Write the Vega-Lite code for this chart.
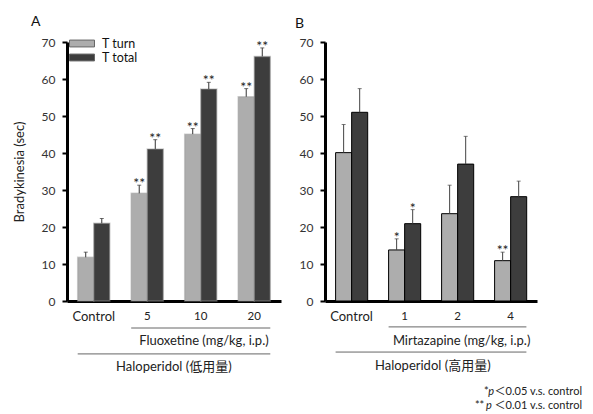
{
  "$schema": "https://vega.github.io/schema/vega-lite/v6.json",
  "padding": {"left": 13, "top": 15, "right": 0, "bottom": 0},
  "background": "white",
  "spacing": 14,
  "datasets": {
    "barsA": [
      {"dose": "Control", "series": "T turn", "value": 11.8, "upper": 13.2, "sig": ""},
      {"dose": "Control", "series": "T total", "value": 21.0, "upper": 22.3, "sig": ""},
      {"dose": "5", "series": "T turn", "value": 29.1, "upper": 31.3, "sig": "**"},
      {"dose": "5", "series": "T total", "value": 41.1, "upper": 43.6, "sig": "**"},
      {"dose": "10", "series": "T turn", "value": 45.1, "upper": 46.6, "sig": "**"},
      {"dose": "10", "series": "T total", "value": 57.3, "upper": 59.1, "sig": "**"},
      {"dose": "20", "series": "T turn", "value": 55.2, "upper": 57.4, "sig": "**"},
      {"dose": "20", "series": "T total", "value": 66.1, "upper": 68.4, "sig": "**"}
    ],
    "barsB": [
      {"dose": "Control", "series": "T turn", "value": 40.1, "upper": 47.7, "sig": ""},
      {"dose": "Control", "series": "T total", "value": 51.0, "upper": 57.4, "sig": ""},
      {"dose": "1", "series": "T turn", "value": 13.8, "upper": 16.8, "sig": "*"},
      {"dose": "1", "series": "T total", "value": 20.9, "upper": 24.7, "sig": "*"},
      {"dose": "2", "series": "T turn", "value": 23.6, "upper": 31.3, "sig": ""},
      {"dose": "2", "series": "T total", "value": 37.0, "upper": 44.5, "sig": ""},
      {"dose": "4", "series": "T turn", "value": 10.9, "upper": 13.2, "sig": "**"},
      {"dose": "4", "series": "T total", "value": 28.2, "upper": 32.4, "sig": ""}
    ],
    "linesA": [
      {"from": "5", "to": "20", "y": -7.3},
      {"from": "Control", "to": "20", "y": -14.3}
    ],
    "linesB": [
      {"from": "1", "to": "4", "y": -7.0},
      {"from": "Control", "to": "4", "y": -13.8}
    ]
  },
  "hconcat": [
    {
      "width": 214,
      "height": 259,
      "title": {"text": "A", "anchor": "start", "frame": "group", "dx": -36, "offset": 7, "fontSize": 14, "fontWeight": "normal", "font": "Lato", "color": "#111"},
      "layer": [
        {
          "data": {"name": "barsA"},
          "mark": {"type": "bar", "strokeWidth": 1.5, "stroke": "#9a9a9a", "strokeOpacity": 0.45},
          "encoding": {
            "x": {"field": "dose", "type": "nominal", "sort": ["Control", "5", "10", "20"],
                  "scale": {"domain": ["Control", "5", "10", "20"], "paddingInner": 0.4, "paddingOuter": 0.2},
                  "axis": {"title": null, "labelAngle": 0, "ticks": false, "domainColor": "#000", "domainWidth": 3, "labelPadding": 9, "labelFontSize": {"condition": {"test": "datum.value == 'Control'", "value": 13}, "value": 11.5}, "labelColor": "#222"}},
            "xOffset": {"field": "series", "type": "nominal", "sort": ["T turn", "T total"], "scale": {"paddingInner": 0, "paddingOuter": 0}},
            "y": {"field": "value", "type": "quantitative",
                  "scale": {"domain": [0, 70], "nice": false},
                  "axis": {"title": "Bradykinesia (sec)", "values": [0, 10, 20, 30, 40, 50, 60, 70], "titleFontSize": 13, "titleFontWeight": "normal", "titleColor": "#222", "titlePadding": 15}},
            "color": {"field": "series", "type": "nominal", "scale": {"domain": ["T turn", "T total"], "range": ["#adadad", "#3d3d3d"]},
                      "legend": {"title": null, "orient": "none", "legendX": 8, "legendY": -5.5, "symbolType": "M-2,-0.55L2,-0.55L2,0.55L-2,0.55Z", "symbolSize": 156, "symbolStrokeColor": "#666", "symbolStrokeWidth": 1, "labelFontSize": 12.5, "labelColor": "#111", "labelOffset": 13, "rowPadding": -3, "padding": 0, "offset": 0}}
          }
        },
        {
          "data": {"name": "barsA"},
          "mark": {"type": "rule", "color": "#333", "strokeWidth": 1},
          "encoding": {
            "x": {"field": "dose", "type": "nominal", "sort": ["Control", "5", "10", "20"]},
            "xOffset": {"field": "series", "type": "nominal", "sort": ["T turn", "T total"]},
            "y": {"field": "value", "type": "quantitative", "axis": {"values": [0, 10, 20, 30, 40, 50, 60, 70]}},
            "y2": {"field": "upper"}
          }
        },
        {
          "data": {"name": "barsA"},
          "mark": {"type": "tick", "color": "#333", "size": 4, "thickness": 1, "orient": "horizontal"},
          "encoding": {
            "x": {"field": "dose", "type": "nominal", "sort": ["Control", "5", "10", "20"]},
            "xOffset": {"field": "series", "type": "nominal", "sort": ["T turn", "T total"]},
            "y": {"field": "upper", "type": "quantitative", "axis": {"values": [0, 10, 20, 30, 40, 50, 60, 70]}}
          }
        },
        {
          "data": {"name": "barsA"},
          "mark": {"type": "text", "fontSize": 14, "baseline": "alphabetic", "dy": 3, "color": "#222"},
          "encoding": {
            "x": {"field": "dose", "type": "nominal", "sort": ["Control", "5", "10", "20"]},
            "xOffset": {"field": "series", "type": "nominal", "sort": ["T turn", "T total"]},
            "y": {"field": "upper", "type": "quantitative", "axis": {"values": [0, 10, 20, 30, 40, 50, 60, 70]}},
            "text": {"field": "sig"}
          }
        },
        {
          "data": {"name": "linesA"},
          "mark": {"type": "rule", "color": "#666", "strokeWidth": 1},
          "encoding": {
            "x": {"field": "from", "type": "nominal", "bandPosition": 0},
            "x2": {"field": "to", "bandPosition": 1},
            "y": {"field": "y", "type": "quantitative", "axis": {"values": [0, 10, 20, 30, 40, 50, 60, 70]}}
          }
        },
        {
          "data": {"values": [
            {"at": "10", "label": "Fluoxetine (mg/kg, i.p.)", "y": -10.8}
          ]},
          "mark": {"type": "text", "fontSize": 13, "color": "#222", "baseline": "middle"},
          "encoding": {
            "x": {"field": "at", "type": "nominal", "bandPosition": 0.6},
            "y": {"field": "y", "type": "quantitative", "axis": {"values": [0, 10, 20, 30, 40, 50, 60, 70]}},
            "text": {"field": "label"}
          }
        },
        {
          "data": {"values": [
            {"at": "5", "label": "Haloperidol (低用量)", "y": -17.8}
          ]},
          "mark": {"type": "text", "fontSize": 13, "color": "#222", "baseline": "middle"},
          "encoding": {
            "x": {"field": "at", "type": "nominal", "bandPosition": 1.33},
            "y": {"field": "y", "type": "quantitative", "axis": {"values": [0, 10, 20, 30, 40, 50, 60, 70]}},
            "text": {"field": "label"}
          }
        }
      ]
    },
    {
      "width": 212,
      "height": 259,
      "title": {"text": "B", "anchor": "start", "frame": "group", "dx": -30, "offset": 5, "fontSize": 14, "fontWeight": "normal", "font": "Lato", "color": "#111"},
      "layer": [
        {
          "data": {"name": "barsB"},
          "mark": {"type": "bar", "stroke": "#000", "strokeWidth": 1},
          "encoding": {
            "x": {"field": "dose", "type": "nominal", "sort": ["Control", "1", "2", "4"],
                  "scale": {"domain": ["Control", "1", "2", "4"], "paddingInner": 0.4, "paddingOuter": 0.2},
                  "axis": {"title": null, "labelAngle": 0, "ticks": false, "domainColor": "#000", "domainWidth": 3, "labelPadding": 9, "labelFontSize": {"condition": {"test": "datum.value == 'Control'", "value": 13}, "value": 11.5}, "labelColor": "#222"}},
            "xOffset": {"field": "series", "type": "nominal", "sort": ["T turn", "T total"], "scale": {"paddingInner": 0, "paddingOuter": 0}},
            "y": {"field": "value", "type": "quantitative",
                  "scale": {"domain": [0, 70], "nice": false},
                  "axis": {"title": null, "values": [0, 10, 20, 30, 40, 50, 60, 70]}},
            "color": {"field": "series", "type": "nominal", "scale": {"domain": ["T turn", "T total"], "range": ["#adadad", "#3d3d3d"]}, "legend": null}
          }
        },
        {
          "data": {"name": "barsB"},
          "mark": {"type": "rule", "color": "#444", "strokeWidth": 1},
          "encoding": {
            "x": {"field": "dose", "type": "nominal", "sort": ["Control", "1", "2", "4"]},
            "xOffset": {"field": "series", "type": "nominal", "sort": ["T turn", "T total"]},
            "y": {"field": "value", "type": "quantitative", "axis": {"title": null, "values": [0, 10, 20, 30, 40, 50, 60, 70]}},
            "y2": {"field": "upper"}
          }
        },
        {
          "data": {"name": "barsB"},
          "mark": {"type": "tick", "color": "#444", "size": 4, "thickness": 1, "orient": "horizontal"},
          "encoding": {
            "x": {"field": "dose", "type": "nominal", "sort": ["Control", "1", "2", "4"]},
            "xOffset": {"field": "series", "type": "nominal", "sort": ["T turn", "T total"]},
            "y": {"field": "upper", "type": "quantitative", "axis": {"title": null, "values": [0, 10, 20, 30, 40, 50, 60, 70]}}
          }
        },
        {
          "data": {"name": "barsB"},
          "mark": {"type": "text", "fontSize": 14, "baseline": "alphabetic", "dy": 3, "color": "#222"},
          "encoding": {
            "x": {"field": "dose", "type": "nominal", "sort": ["Control", "1", "2", "4"]},
            "xOffset": {"field": "series", "type": "nominal", "sort": ["T turn", "T total"]},
            "y": {"field": "upper", "type": "quantitative", "axis": {"title": null, "values": [0, 10, 20, 30, 40, 50, 60, 70]}},
            "text": {"field": "sig"}
          }
        },
        {
          "data": {"name": "linesB"},
          "mark": {"type": "rule", "color": "#666", "strokeWidth": 1},
          "encoding": {
            "x": {"field": "from", "type": "nominal", "bandPosition": 0},
            "x2": {"field": "to", "bandPosition": 1},
            "y": {"field": "y", "type": "quantitative", "axis": {"title": null, "values": [0, 10, 20, 30, 40, 50, 60, 70]}}
          }
        },
        {
          "data": {"values": [
            {"at": "2", "label": "Mirtazapine (mg/kg, i.p.)", "y": -10.8}
          ]},
          "mark": {"type": "text", "fontSize": 13, "color": "#222", "baseline": "middle"},
          "encoding": {
            "x": {"field": "at", "type": "nominal", "bandPosition": 0.63},
            "y": {"field": "y", "type": "quantitative", "axis": {"title": null, "values": [0, 10, 20, 30, 40, 50, 60, 70]}},
            "text": {"field": "label"}
          }
        },
        {
          "data": {"values": [
            {"at": "1", "label": "Haloperidol (高用量)", "y": -17.6}
          ]},
          "mark": {"type": "text", "fontSize": 13, "color": "#222", "baseline": "middle"},
          "encoding": {
            "x": {"field": "at", "type": "nominal", "bandPosition": 1.39},
            "y": {"field": "y", "type": "quantitative", "axis": {"title": null, "values": [0, 10, 20, 30, 40, 50, 60, 70]}},
            "text": {"field": "label"}
          }
        },
        {
          "data": {"values": [
            {"at": "4", "label": "＜0.05 v.s. control", "y": -24.6},
            {"at": "4", "label": "＜0.01 v.s. control", "y": -28.4}
          ]},
          "mark": {"type": "text", "fontSize": 11, "color": "#222", "baseline": "middle", "align": "left"},
          "encoding": {
            "x": {"field": "at", "type": "nominal", "bandPosition": 0},
            "y": {"field": "y", "type": "quantitative", "axis": {"title": null, "values": [0, 10, 20, 30, 40, 50, 60, 70]}},
            "text": {"field": "label"}
          }
        },
        {
          "data": {"values": [
            {"at": "4", "label": "p", "y": -24.6}
          ]},
          "mark": {"type": "text", "fontSize": 11, "fontStyle": "italic", "color": "#222", "baseline": "middle", "align": "left"},
          "encoding": {
            "x": {"field": "at", "type": "nominal", "bandPosition": -0.2},
            "y": {"field": "y", "type": "quantitative", "axis": {"title": null, "values": [0, 10, 20, 30, 40, 50, 60, 70]}},
            "text": {"field": "label"}
          }
        },
        {
          "data": {"values": [
            {"at": "4", "label": "p", "y": -28.4}
          ]},
          "mark": {"type": "text", "fontSize": 11, "fontStyle": "italic", "color": "#222", "baseline": "middle", "align": "left"},
          "encoding": {
            "x": {"field": "at", "type": "nominal", "bandPosition": -0.27},
            "y": {"field": "y", "type": "quantitative", "axis": {"title": null, "values": [0, 10, 20, 30, 40, 50, 60, 70]}},
            "text": {"field": "label"}
          }
        },
        {
          "data": {"values": [
            {"at": "4", "label": "*", "y": -24.6}
          ]},
          "mark": {"type": "text", "fontSize": 11, "color": "#222", "baseline": "middle", "align": "left"},
          "encoding": {
            "x": {"field": "at", "type": "nominal", "bandPosition": -0.33},
            "y": {"field": "y", "type": "quantitative", "axis": {"title": null, "values": [0, 10, 20, 30, 40, 50, 60, 70]}},
            "text": {"field": "label"}
          }
        },
        {
          "data": {"values": [
            {"at": "4", "label": "**", "y": -28.4}
          ]},
          "mark": {"type": "text", "fontSize": 11, "color": "#222", "baseline": "middle", "align": "left"},
          "encoding": {
            "x": {"field": "at", "type": "nominal", "bandPosition": -0.62},
            "y": {"field": "y", "type": "quantitative", "axis": {"title": null, "values": [0, 10, 20, 30, 40, 50, 60, 70]}},
            "text": {"field": "label"}
          }
        }
      ]
    }
  ],
  "resolve": {"scale": {"color": "independent", "x": "independent", "y": "independent"}, "legend": {"color": "independent"}},
  "config": {
    "font": "Lato, 'Noto Sans CJK JP', sans-serif",
    "view": {"stroke": null},
    "axis": {"labelFont": "Lato, 'Noto Sans CJK JP', sans-serif", "titleFont": "Lato, sans-serif"},
    "axisY": {"grid": false, "labelOverlap": false, "domainColor": "#000", "domainWidth": 3, "tickColor": "#000", "tickWidth": 2, "tickSize": 5, "labelPadding": 7, "labelFontSize": 12, "labelColor": "#333"},
    "legend": {"labelFont": "Lato, sans-serif"},
    "text": {"font": "Lato, 'Noto Sans CJK JP', sans-serif"}
  }
}
